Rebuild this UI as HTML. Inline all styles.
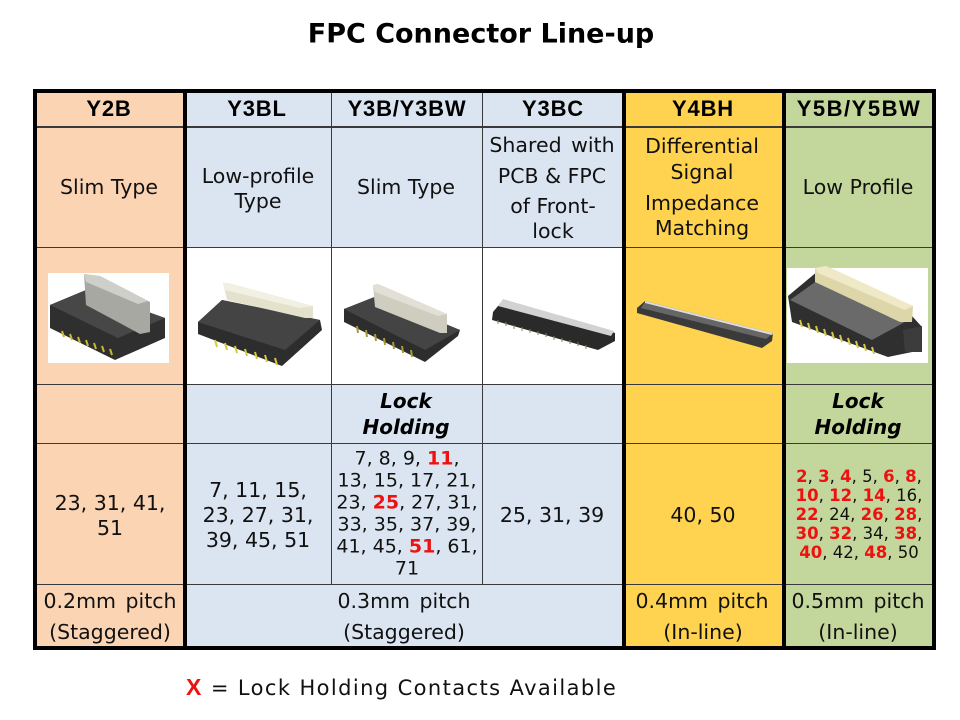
<!DOCTYPE html>
<html>
<head>
<meta charset="utf-8">
<style>
html,body{margin:0;padding:0;background:#fff;}
#c{position:relative;width:960px;height:720px;overflow:hidden;background:#fff;}
.bg{position:absolute;}
.ln{position:absolute;background:#3a3a3a;}
.tk{position:absolute;background:#000;}
.t{position:absolute;transform:translate(-50%,-50%);white-space:nowrap;text-align:center;line-height:1;font-family:"DejaVu Sans","Liberation Sans",sans-serif;font-size:20.5px;color:#111;}
.h{font-family:"Liberation Sans",sans-serif;font-weight:bold;font-size:22px;letter-spacing:0.8px;color:#000;}
.lk{font-weight:bold;font-style:italic;font-size:20px;color:#000;}
.s19{font-size:19px;}
.s16{font-size:16.5px;}
.r{color:#ee1111;font-weight:bold;}
.pt{word-spacing:3px;}
</style>
</head>
<body>
<div id="c">
<!-- title -->
<div class="t" style="left:481px;top:34px;font-weight:bold;font-size:27px;color:#000;">FPC Connector Line-up</div>

<!-- backgrounds -->
<div class="bg" style="left:35px;top:90px;width:150px;height:558px;background:#FBD4B4;"></div>
<div class="bg" style="left:185px;top:90px;width:440px;height:558px;background:#DBE5F1;"></div>
<div class="bg" style="left:185px;top:248px;width:440px;height:136px;background:#fff;"></div>
<div class="bg" style="left:625px;top:90px;width:160px;height:558px;background:#FFD24F;"></div>
<div class="bg" style="left:785px;top:90px;width:150px;height:558px;background:#C3D69B;"></div>

<!-- connector images -->
<svg style="position:absolute;left:0;top:0" width="960" height="720" viewBox="0 0 960 720">
  <!-- Y2B -->
  <rect x="48" y="273" width="121" height="90" fill="#fff"/>
  <polygon points="50,305 86,290 165,318 165,338 115,360 50,328" fill="#2f2f2f"/>
  <polygon points="50,305 86,290 165,318 118,338" fill="#474747"/>
  <polygon points="84,274 100,276 150,302 150,332 140,334 86,305" fill="#a8a8a2"/>
  <polygon points="84,274 100,276 148,301 138,304 86,282" fill="#cfcfca"/>
  <g stroke="#c9b92e" stroke-width="2">
    <line x1="62" y1="331" x2="64" y2="337"/><line x1="70" y1="334" x2="72" y2="340"/>
    <line x1="78" y1="337" x2="80" y2="343"/><line x1="86" y1="340" x2="88" y2="346"/>
    <line x1="94" y1="343" x2="96" y2="349"/><line x1="102" y1="346" x2="104" y2="352"/>
    <line x1="110" y1="349" x2="112" y2="355"/>
  </g>
  <!-- Y3BL -->
  <polygon points="198,322 222,300 320,320 322,330 282,366 198,334" fill="#2d2d2d"/>
  <polygon points="198,322 222,300 320,320 285,350" fill="#444"/>
  <polygon points="223,283 228,283 313,306 313,318 305,318 227,300" fill="#e4e1cc"/>
  <polygon points="223,283 228,283 313,306 300,308 225,290" fill="#f2f0e2"/>
  <g stroke="#d8c83a" stroke-width="2">
    <line x1="215" y1="340" x2="217" y2="347"/><line x1="225" y1="343" x2="227" y2="350"/>
    <line x1="235" y1="346" x2="237" y2="353"/><line x1="245" y1="349" x2="247" y2="356"/>
    <line x1="255" y1="352" x2="257" y2="359"/><line x1="265" y1="355" x2="267" y2="362"/>
    <line x1="275" y1="358" x2="277" y2="365"/>
  </g>
  <!-- Y3B -->
  <polygon points="344,309 377,296 460,330 458,336 425,362 344,322" fill="#2d2d2d"/>
  <polygon points="344,309 377,296 460,330 425,350" fill="#444"/>
  <polygon points="373,285 378,284 447,314 447,333 440,333 375,307" fill="#cfcdc0"/>
  <polygon points="373,285 378,284 447,314 438,316 375,292" fill="#e2e0d6"/>
  <g stroke="#a89a3a" stroke-width="2">
    <line x1="357" y1="326" x2="358" y2="333"/><line x1="366" y1="330" x2="367" y2="337"/>
    <line x1="375" y1="334" x2="376" y2="341"/><line x1="384" y1="338" x2="385" y2="345"/>
    <line x1="393" y1="342" x2="394" y2="349"/><line x1="402" y1="346" x2="403" y2="353"/>
    <line x1="411" y1="350" x2="412" y2="357"/>
  </g>
  <!-- Y3BC -->
  <polygon points="493,312 503,300 615,333 615,341 598,350 492,320" fill="#2a2a2a"/>
  <polygon points="503,299 614,331 611,336 498,306" fill="#d2d2d2"/>
  <g stroke="#8a8050" stroke-width="1">
    <line x1="498" y1="320" x2="498" y2="324"/><line x1="506" y1="322" x2="506" y2="326"/>
    <line x1="514" y1="325" x2="514" y2="329"/><line x1="522" y1="327" x2="522" y2="331"/>
    <line x1="530" y1="329" x2="530" y2="333"/><line x1="538" y1="331" x2="538" y2="335"/>
    <line x1="546" y1="333" x2="546" y2="337"/><line x1="554" y1="336" x2="554" y2="340"/>
    <line x1="562" y1="338" x2="562" y2="342"/><line x1="570" y1="340" x2="570" y2="344"/>
    <line x1="578" y1="342" x2="578" y2="346"/><line x1="586" y1="345" x2="586" y2="349"/>
  </g>
  <!-- Y4BH -->
  <polygon points="645,301 773,333 772,341 762,348 637,313 637,308" fill="#3a3a3a"/>
  <polygon points="645,302 772,334 766,339 641,308" fill="#666"/>
  <polygon points="645,301 773,333 772,335 645,303" fill="#ddd"/>
  <!-- Y5B -->
  <rect x="787" y="268" width="141" height="95" fill="#fff"/>
  <polygon points="788,296 818,271 912,316 922,327 922,350 888,357 792,322" fill="#2f2f2f"/>
  <polygon points="790,300 818,280 905,322 872,340" fill="#6a6a6a"/>
  <polygon points="815,268 826,266 913,306 912,322 900,322 815,282" fill="#ddd6a8"/>
  <polygon points="815,268 826,266 913,306 905,310 818,273" fill="#efe9c8"/>
  <polygon points="903,330 922,326 922,352 905,352" fill="#3c3c3c"/>
  <g stroke="#d6c94a" stroke-width="2">
    <line x1="800" y1="320" x2="802" y2="327"/><line x1="808" y1="323" x2="810" y2="330"/>
    <line x1="816" y1="326" x2="818" y2="333"/><line x1="824" y1="329" x2="826" y2="336"/>
    <line x1="832" y1="332" x2="834" y2="339"/><line x1="840" y1="335" x2="842" y2="342"/>
    <line x1="848" y1="338" x2="850" y2="345"/><line x1="856" y1="341" x2="858" y2="348"/>
    <line x1="864" y1="344" x2="866" y2="351"/><line x1="872" y1="347" x2="874" y2="354"/>
  </g>
</svg>

<!-- thin lines -->
<div class="ln" style="left:35px;top:126px;width:899px;height:1.6px;"></div>
<div class="ln" style="left:35px;top:246.5px;width:899px;height:1.6px;"></div>
<div class="ln" style="left:35px;top:383.5px;width:899px;height:1.6px;"></div>
<div class="ln" style="left:35px;top:442.5px;width:899px;height:1.6px;"></div>
<div class="ln" style="left:35px;top:583.5px;width:899px;height:1.6px;"></div>
<div class="ln" style="left:330.5px;top:91px;width:1.6px;height:493px;"></div>
<div class="ln" style="left:481.8px;top:91px;width:1.6px;height:493px;"></div>

<!-- thick lines -->
<div class="tk" style="left:33px;top:89px;width:903px;height:3.5px;"></div>
<div class="tk" style="left:33px;top:646px;width:903px;height:4px;"></div>
<div class="tk" style="left:33px;top:89px;width:4px;height:561px;"></div>
<div class="tk" style="left:932px;top:89px;width:4px;height:561px;"></div>
<div class="tk" style="left:182.5px;top:89px;width:4px;height:561px;"></div>
<div class="tk" style="left:622px;top:89px;width:4px;height:561px;"></div>
<div class="tk" style="left:782px;top:89px;width:4px;height:561px;"></div>

<!-- headers -->
<div class="t h" style="left:109px;top:109px;">Y2B</div>
<div class="t h" style="left:257px;top:109px;">Y3BL</div>
<div class="t h" style="left:407px;top:109px;">Y3B/Y3BW</div>
<div class="t h" style="left:553px;top:109px;">Y3BC</div>
<div class="t h" style="left:703px;top:109px;">Y4BH</div>
<div class="t h" style="left:859px;top:109px;letter-spacing:1.5px;">Y5B/Y5BW</div>

<!-- descriptions -->
<div class="t" style="left:109px;top:187px;">Slim Type</div>
<div class="t" style="left:258px;top:176px;">Low-profile</div>
<div class="t" style="left:258px;top:201px;">Type</div>
<div class="t" style="left:406px;top:187px;">Slim Type</div>
<div class="t" style="left:552px;top:145px;word-spacing:3px;">Shared with</div>
<div class="t" style="left:552px;top:176px;">PCB &amp; FPC</div>
<div class="t" style="left:553px;top:206px;">of Front-</div>
<div class="t" style="left:553px;top:231px;">lock</div>
<div class="t" style="left:702px;top:146px;">Differential</div>
<div class="t" style="left:702px;top:172px;">Signal</div>
<div class="t" style="left:702px;top:203px;">Impedance</div>
<div class="t" style="left:702px;top:228px;">Matching</div>
<div class="t" style="left:858px;top:187px;">Low Profile</div>

<!-- lock holding -->
<div class="t lk" style="left:406px;top:401px;">Lock</div>
<div class="t lk" style="left:406px;top:427px;">Holding</div>
<div class="t lk" style="left:858px;top:401px;">Lock</div>
<div class="t lk" style="left:858px;top:427px;">Holding</div>

<!-- counts -->
<div class="t" style="left:110px;top:503px;">23, 31, 41,</div>
<div class="t" style="left:110px;top:528px;">51</div>
<div class="t" style="left:258px;top:490px;">7, 11, 15,</div>
<div class="t" style="left:258px;top:515px;">23, 27, 31,</div>
<div class="t" style="left:258px;top:540px;">39, 45, 51</div>

<div class="t s19" style="left:407px;top:459px;">7, 8, 9, <span class="r">11</span>,</div>
<div class="t s19" style="left:407px;top:481px;">13, 15, 17, 21,</div>
<div class="t s19" style="left:407px;top:503px;">23, <span class="r">25</span>, 27, 31,</div>
<div class="t s19" style="left:407px;top:525px;">33, 35, 37, 39,</div>
<div class="t s19" style="left:407px;top:547px;">41, 45, <span class="r">51</span>, 61,</div>
<div class="t s19" style="left:407px;top:569px;">71</div>

<div class="t" style="left:552px;top:515px;">25, 31, 39</div>
<div class="t" style="left:703px;top:515px;">40, 50</div>

<div class="t s16" style="left:859px;top:477px;"><span class="r">2</span>, <span class="r">3</span>, <span class="r">4</span>, 5, <span class="r">6</span>, <span class="r">8</span>,</div>
<div class="t s16" style="left:859px;top:496px;"><span class="r">10</span>, <span class="r">12</span>, <span class="r">14</span>, 16,</div>
<div class="t s16" style="left:859px;top:515px;"><span class="r">22</span>, 24, <span class="r">26</span>, <span class="r">28</span>,</div>
<div class="t s16" style="left:859px;top:534px;"><span class="r">30</span>, <span class="r">32</span>, 34, <span class="r">38</span>,</div>
<div class="t s16" style="left:859px;top:553px;"><span class="r">40</span>, 42, <span class="r">48</span>, 50</div>

<!-- pitch -->
<div class="t pt" style="left:110px;top:601px;">0.2mm pitch</div>
<div class="t" style="left:110px;top:632px;">(Staggered)</div>
<div class="t pt" style="left:404px;top:601px;">0.3mm pitch</div>
<div class="t" style="left:404px;top:632px;">(Staggered)</div>
<div class="t pt" style="left:702px;top:601px;">0.4mm pitch</div>
<div class="t" style="left:703px;top:632px;">(In-line)</div>
<div class="t pt" style="left:858px;top:601px;">0.5mm pitch</div>
<div class="t" style="left:858px;top:632px;">(In-line)</div>

<!-- legend -->
<div style="position:absolute;left:186px;top:675px;line-height:24px;white-space:nowrap;font-family:'DejaVu Sans','Liberation Sans',sans-serif;font-size:21px;letter-spacing:1.4px;color:#111;"><span style="color:#ee1111;font-weight:bold;font-family:'Liberation Sans',sans-serif;font-size:23px;">X</span> = Lock Holding Contacts Available</div>
</div>
</body>
</html>
